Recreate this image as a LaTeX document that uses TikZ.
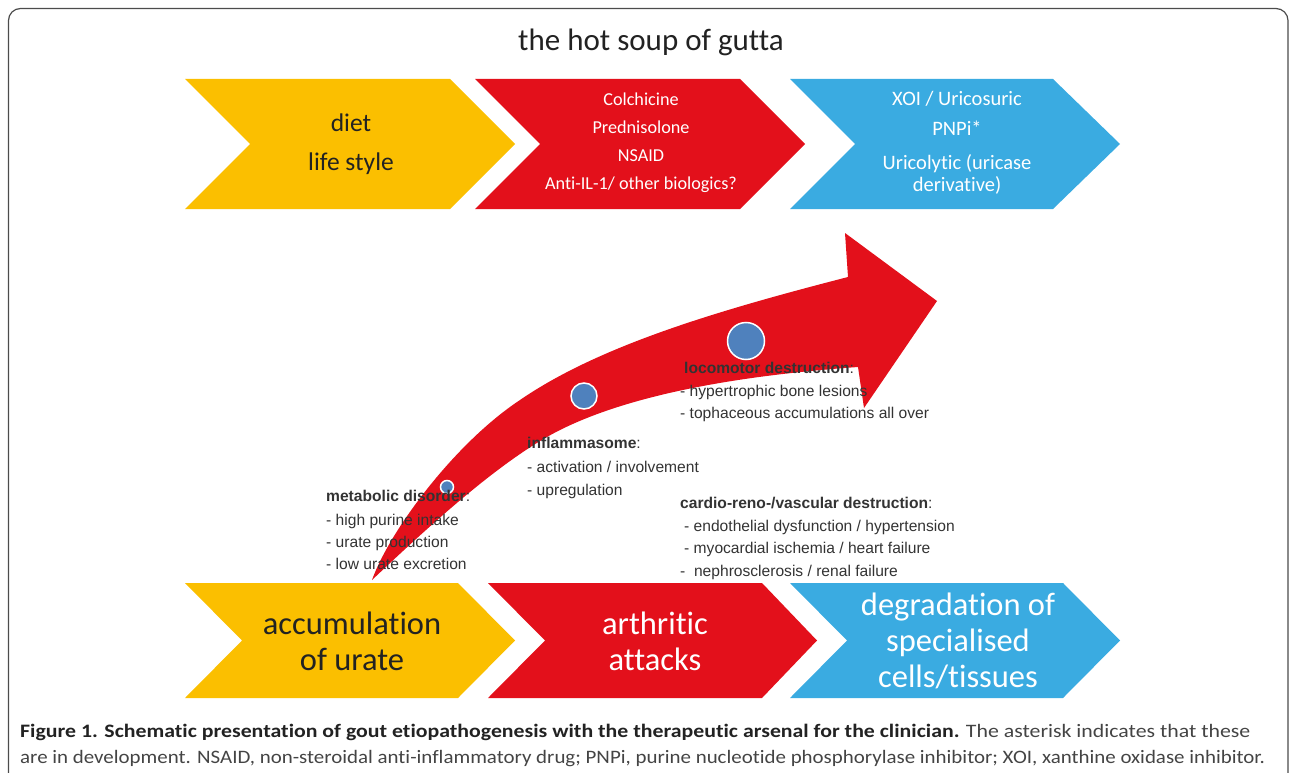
\documentclass[tikz,border=0pt]{standalone}
\usepackage{fontspec}
\usepackage{graphicx}
\setmainfont[Ligatures=NoCommon]{Carlito}
\newfontfamily\arialf{Liberation Sans}
\definecolor{cyel}{HTML}{FBBF00}
\definecolor{cred}{HTML}{E3101B}
\definecolor{cblu}{HTML}{3AABE1}
\definecolor{cdot}{HTML}{4F81BD}
\definecolor{ctxt}{HTML}{222222}
\definecolor{cann}{HTML}{333333}
\definecolor{ccap}{HTML}{444444}
\newcommand\mychev[7]{\fill[#7] (#1,#5) -- (#3,#5) -- (#4,{(#5+#6)/2}) -- (#3,#6) -- (#1,#6) -- (#2,{(#5+#6)/2}) -- cycle;}
\begin{document}
\begin{tikzpicture}[x=1pt,y=-1pt,
  ann/.style={anchor=base west, inner sep=0, text=cann, font={\arialf\fontsize{15.6}{18}\selectfont}},
  chevtop/.style={align=center, inner sep=0},
  dot/.style={circle, fill=cdot, draw=white, line width=1.5pt, inner sep=0}]
\useasboundingbox (0,0) rectangle (1290,773);
% frame
\draw[black!70, line width=1.2pt, rounded corners=12pt] (8.5,8.5) rectangle (1288,800);
% title
\node[text=ctxt, font={\fontsize{31}{34}\selectfont}, inner sep=0] (title) at (651,42) {the hot soup of gutta};
% top chevrons
\mychev{185}{250}{450}{515}{79}{209}{cyel}
\mychev{475}{540}{740}{805}{79}{209}{cred}
\mychev{790}{855}{1053}{1120}{79}{209}{cblu}
\node[chevtop, text=ctxt, font={\fontsize{25.5}{39}\selectfont}] (t1) at (351,144) {diet\\life style};
\node[chevtop, text=white, font={\fontsize{18.2}{28}\selectfont}] (t2) at (641,143) {Colchicine\\Prednisolone\\NSAID\\Anti-IL-1/ other biologics?};
\node[chevtop, text=white, font={\fontsize{20.5}{22}\selectfont}] (t3) at (957,143) {XOI / Uricosuric\\[8pt]PNPi*\\[12pt]Uricolytic (uricase\\derivative)};
% bottom chevrons
\mychev{185}{242}{458}{515}{583}{698}{cyel}
\mychev{488}{545}{762}{817}{583}{698}{cred}
\mychev{790}{847}{1063}{1120}{583}{698}{cblu}
\node[chevtop, text=ctxt, font={\fontsize{32.5}{36}\selectfont}] (b1) at (352,641) {accumulation\\of urate};
\node[chevtop, text=white, font={\fontsize{32.5}{36}\selectfont}] (b2) at (655,641) {arthritic\\attacks};
\node[chevtop, text=white, font={\fontsize{32.5}{36}\selectfont}] (b3) at (958,641) {degradation of\\specialised\\cells/tissues};
% big curved arrow
\fill[cred] (372,580) .. controls (390,530) and (455,443) .. (520,400)
  .. controls (600,345) and (720,310) .. (848,277)
  -- (845,233) -- (937,301) -- (864,408) -- (858,367)
  .. controls (760,374) and (640,390) .. (560,430)
  .. controls (500,460) and (425,530) .. (372,580) -- cycle;
% dots
\node[dot, minimum size=13pt] (d1) at (447,487) {};
\node[dot, minimum size=26pt] (d2) at (584,396) {};
\node[dot, minimum size=37pt] (d3) at (746,341) {};
% annotations
\node[ann] (m0) at (326,501) {\textbf{metabolic disorder}:};
\node[ann] (m1) at (326,525) {- high purine intake};
\node[ann] (m2) at (326,547) {- urate production};
\node[ann] (m3) at (326,569) {- low urate excretion};
\node[ann] (i0) at (527,448) {\textbf{inflammasome}:};
\node[ann] (i1) at (527,472) {- activation / involvement};
\node[ann] (i2) at (527,495) {- upregulation};
\node[ann] (l0) at (684,373) {\textbf{locomotor destruction}:};
\node[ann] (l1) at (680,396) {- hypertrophic bone lesions};
\node[ann] (l2) at (680,418) {- tophaceous accumulations all over};
\node[ann] (v0) at (680,508) {\textbf{cardio-reno-/vascular destruction}:};
\node[ann] (v1) at (684,531) {- endothelial dysfunction / hypertension};
\node[ann] (v2) at (684,553) {- myocardial ischemia / heart failure};
\node[ann] (v3) at (680,576) {-\ \ nephrosclerosis / renal failure};
% caption
\node[anchor=base west, inner sep=0, text=ccap, font={\fontsize{19}{22}\selectfont}] (cap1) at (20,737)
  {\resizebox{1230pt}{\height}{\textcolor{ctxt}{\textbf{Figure 1. Schematic presentation of gout etiopathogenesis with the therapeutic arsenal for the clinician.}} The asterisk indicates that these}};
\node[anchor=base west, inner sep=0, text=ccap, font={\fontsize{19}{22}\selectfont}] (cap2) at (20,763)
  {\resizebox{1245pt}{\height}{are in development. NSAID, non-steroidal anti-inflammatory drug; PNPi, purine nucleotide phosphorylase inhibitor; XOI, xanthine oxidase inhibitor.}};
\end{tikzpicture}
\end{document}
